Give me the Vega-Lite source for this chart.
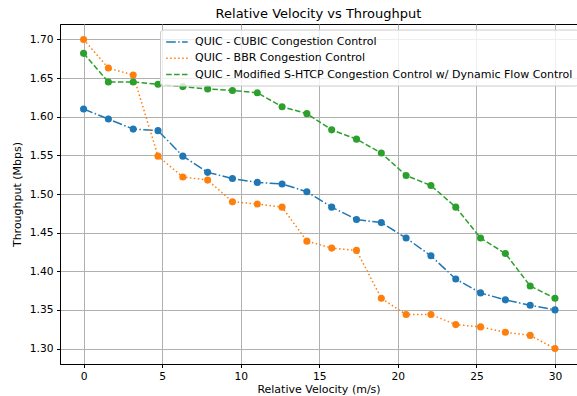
{
  "$schema": "https://vega.github.io/schema/vega-lite/v6.json",
  "autosize": "none",
  "width": 517,
  "height": 340,
  "padding": {"left": 60, "top": 24, "right": 0, "bottom": 32},
  "background": "white",
  "title": {"text": "Relative Velocity vs Throughput", "fontSize": 13, "fontWeight": "normal", "font": "DejaVu Sans", "color": "black", "offset": 3.5, "anchor": "middle"},
  "config": {
    "font": "DejaVu Sans",
    "view": {"stroke": "black", "strokeWidth": 1},
    "axis": {
      "labelFont": "DejaVu Sans", "labelFontSize": 10.7, "labelColor": "black",
      "titleFont": "DejaVu Sans", "titleFontSize": 11, "titleFontWeight": "normal", "titleColor": "black",
      "gridColor": "#b0b0b0", "gridWidth": 1, "gridOpacity": 1,
      "domainColor": "black", "tickColor": "black", "tickSize": 3.5, "labelPadding": 3.5
    }
  },
  "data": {"values": [
    {"series": "QUIC - CUBIC Congestion Control", "v": 0, "t": 1.610},
    {"series": "QUIC - CUBIC Congestion Control", "v": 1.579, "t": 1.597},
    {"series": "QUIC - CUBIC Congestion Control", "v": 3.158, "t": 1.584},
    {"series": "QUIC - CUBIC Congestion Control", "v": 4.737, "t": 1.582},
    {"series": "QUIC - CUBIC Congestion Control", "v": 6.316, "t": 1.549},
    {"series": "QUIC - CUBIC Congestion Control", "v": 7.895, "t": 1.528},
    {"series": "QUIC - CUBIC Congestion Control", "v": 9.474, "t": 1.520},
    {"series": "QUIC - CUBIC Congestion Control", "v": 11.053, "t": 1.515},
    {"series": "QUIC - CUBIC Congestion Control", "v": 12.632, "t": 1.513},
    {"series": "QUIC - CUBIC Congestion Control", "v": 14.211, "t": 1.503},
    {"series": "QUIC - CUBIC Congestion Control", "v": 15.789, "t": 1.483},
    {"series": "QUIC - CUBIC Congestion Control", "v": 17.368, "t": 1.467},
    {"series": "QUIC - CUBIC Congestion Control", "v": 18.947, "t": 1.463},
    {"series": "QUIC - CUBIC Congestion Control", "v": 20.526, "t": 1.443},
    {"series": "QUIC - CUBIC Congestion Control", "v": 22.105, "t": 1.420},
    {"series": "QUIC - CUBIC Congestion Control", "v": 23.684, "t": 1.390},
    {"series": "QUIC - CUBIC Congestion Control", "v": 25.263, "t": 1.372},
    {"series": "QUIC - CUBIC Congestion Control", "v": 26.842, "t": 1.363},
    {"series": "QUIC - CUBIC Congestion Control", "v": 28.421, "t": 1.356},
    {"series": "QUIC - CUBIC Congestion Control", "v": 30, "t": 1.350},
    {"series": "QUIC - BBR Congestion Control", "v": 0, "t": 1.700},
    {"series": "QUIC - BBR Congestion Control", "v": 1.579, "t": 1.663},
    {"series": "QUIC - BBR Congestion Control", "v": 3.158, "t": 1.654},
    {"series": "QUIC - BBR Congestion Control", "v": 4.737, "t": 1.549},
    {"series": "QUIC - BBR Congestion Control", "v": 6.316, "t": 1.522},
    {"series": "QUIC - BBR Congestion Control", "v": 7.895, "t": 1.518},
    {"series": "QUIC - BBR Congestion Control", "v": 9.474, "t": 1.490},
    {"series": "QUIC - BBR Congestion Control", "v": 11.053, "t": 1.487},
    {"series": "QUIC - BBR Congestion Control", "v": 12.632, "t": 1.483},
    {"series": "QUIC - BBR Congestion Control", "v": 14.211, "t": 1.439},
    {"series": "QUIC - BBR Congestion Control", "v": 15.789, "t": 1.430},
    {"series": "QUIC - BBR Congestion Control", "v": 17.368, "t": 1.427},
    {"series": "QUIC - BBR Congestion Control", "v": 18.947, "t": 1.365},
    {"series": "QUIC - BBR Congestion Control", "v": 20.526, "t": 1.344},
    {"series": "QUIC - BBR Congestion Control", "v": 22.105, "t": 1.344},
    {"series": "QUIC - BBR Congestion Control", "v": 23.684, "t": 1.331},
    {"series": "QUIC - BBR Congestion Control", "v": 25.263, "t": 1.328},
    {"series": "QUIC - BBR Congestion Control", "v": 26.842, "t": 1.321},
    {"series": "QUIC - BBR Congestion Control", "v": 28.421, "t": 1.317},
    {"series": "QUIC - BBR Congestion Control", "v": 30, "t": 1.300},
    {"series": "QUIC - Modified S-HTCP Congestion Control w/ Dynamic Flow Control", "v": 0, "t": 1.682},
    {"series": "QUIC - Modified S-HTCP Congestion Control w/ Dynamic Flow Control", "v": 1.579, "t": 1.645},
    {"series": "QUIC - Modified S-HTCP Congestion Control w/ Dynamic Flow Control", "v": 3.158, "t": 1.645},
    {"series": "QUIC - Modified S-HTCP Congestion Control w/ Dynamic Flow Control", "v": 4.737, "t": 1.642},
    {"series": "QUIC - Modified S-HTCP Congestion Control w/ Dynamic Flow Control", "v": 6.316, "t": 1.639},
    {"series": "QUIC - Modified S-HTCP Congestion Control w/ Dynamic Flow Control", "v": 7.895, "t": 1.636},
    {"series": "QUIC - Modified S-HTCP Congestion Control w/ Dynamic Flow Control", "v": 9.474, "t": 1.634},
    {"series": "QUIC - Modified S-HTCP Congestion Control w/ Dynamic Flow Control", "v": 11.053, "t": 1.631},
    {"series": "QUIC - Modified S-HTCP Congestion Control w/ Dynamic Flow Control", "v": 12.632, "t": 1.613},
    {"series": "QUIC - Modified S-HTCP Congestion Control w/ Dynamic Flow Control", "v": 14.211, "t": 1.604},
    {"series": "QUIC - Modified S-HTCP Congestion Control w/ Dynamic Flow Control", "v": 15.789, "t": 1.583},
    {"series": "QUIC - Modified S-HTCP Congestion Control w/ Dynamic Flow Control", "v": 17.368, "t": 1.571},
    {"series": "QUIC - Modified S-HTCP Congestion Control w/ Dynamic Flow Control", "v": 18.947, "t": 1.553},
    {"series": "QUIC - Modified S-HTCP Congestion Control w/ Dynamic Flow Control", "v": 20.526, "t": 1.524},
    {"series": "QUIC - Modified S-HTCP Congestion Control w/ Dynamic Flow Control", "v": 22.105, "t": 1.511},
    {"series": "QUIC - Modified S-HTCP Congestion Control w/ Dynamic Flow Control", "v": 23.684, "t": 1.483},
    {"series": "QUIC - Modified S-HTCP Congestion Control w/ Dynamic Flow Control", "v": 25.263, "t": 1.443},
    {"series": "QUIC - Modified S-HTCP Congestion Control w/ Dynamic Flow Control", "v": 26.842, "t": 1.423},
    {"series": "QUIC - Modified S-HTCP Congestion Control w/ Dynamic Flow Control", "v": 28.421, "t": 1.381},
    {"series": "QUIC - Modified S-HTCP Congestion Control w/ Dynamic Flow Control", "v": 30, "t": 1.365}
  ]},
  "encoding": {
    "x": {"field": "v", "type": "quantitative", "title": "Relative Velocity (m/s)",
      "scale": {"domain": [-1.5, 31.4], "nice": false, "zero": false},
      "axis": {"values": [0, 5, 10, 15, 20, 25, 30], "titlePadding": 3}},
    "y": {"field": "t", "type": "quantitative", "title": "Throughput (Mbps)",
      "scale": {"domain": [1.28, 1.72], "nice": false, "zero": false},
      "axis": {"values": [1.30, 1.35, 1.40, 1.45, 1.50, 1.55, 1.60, 1.65, 1.70], "format": ".2f", "titlePadding": 7}}
  },
  "layer": [
    {
      "mark": {"type": "line", "strokeWidth": 1.5, "clip": true},
      "encoding": {
        "color": {"field": "series", "type": "nominal", "title": null,
          "scale": {"domain": ["QUIC - CUBIC Congestion Control", "QUIC - BBR Congestion Control", "QUIC - Modified S-HTCP Congestion Control w/ Dynamic Flow Control"],
                    "range": ["#1f77b4", "#ff7f0e", "#2ca02c"]},
          "legend": {"orient": "none", "legendX": 100, "legendY": 5.5, "symbolType": "M-1,0H2.4", "symbolSize": 160, "symbolStrokeWidth": 1.5,
            "labelFont": "DejaVu Sans", "labelFontSize": 11, "labelColor": "black", "labelLimit": 500,
            "fillColor": "rgba(255,255,255,0.8)", "strokeColor": "#cccccc", "cornerRadius": 3, "padding": 5, "rowPadding": 3.3, "labelOffset": 15}},
        "strokeDash": {"field": "series", "type": "nominal", "title": null,
          "scale": {"domain": ["QUIC - CUBIC Congestion Control", "QUIC - BBR Congestion Control", "QUIC - Modified S-HTCP Congestion Control w/ Dynamic Flow Control"],
                    "range": [[9.6, 2.4, 1.5, 2.4], [1.5, 2.5], [5.5, 2.4]]}}
      }
    },
    {
      "mark": {"type": "point", "filled": true, "opacity": 1, "size": 50, "clip": true},
      "encoding": {
        "color": {"field": "series", "type": "nominal", "legend": null}
      }
    }
  ]
}
